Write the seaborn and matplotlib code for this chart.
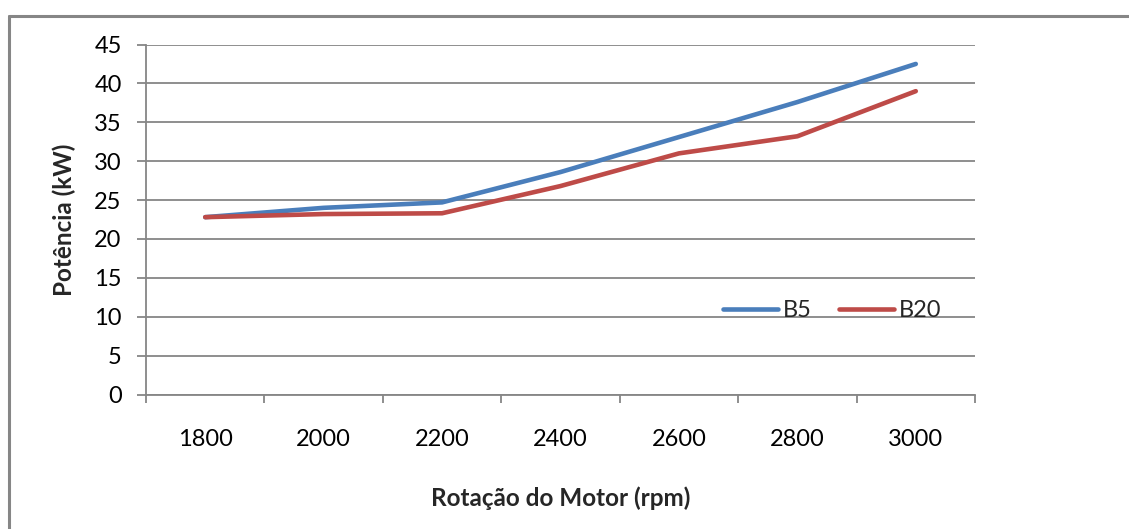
import matplotlib
matplotlib.use("Agg")
import matplotlib.pyplot as plt
import seaborn as sns
import pandas as pd
from matplotlib.lines import Line2D

rpm = ["1800", "2000", "2200", "2400", "2600", "2800", "3000"]
b5 = [22.8, 24.0, 24.7, 28.6, 33.1, 37.6, 42.5]
b20 = [22.8, 23.2, 23.3, 26.8, 31.0, 33.2, 39.0]
series_names = ["B5", "B20"]
colors = ["#4A7EBB", "#BE4B48"]
yticks = [0, 5, 10, 15, 20, 25, 30, 35, 40, 45]

df = pd.DataFrame({
    "rpm": rpm * 2,
    "pot": b5 + b20,
    "serie": [series_names[0]] * len(rpm) + [series_names[1]] * len(rpm),
})

sns.set_style("white")
plt.rcParams["font.family"] = ["Lato", "DejaVu Sans"]

fig = plt.figure(figsize=(11.29, 5.29), dpi=100)
ax = fig.add_axes([146/1129, 1-394.5/529, (975-146)/1129, 350/529])

lw = 3.3
sns.lineplot(data=df, x="rpm", y="pot", hue="serie", palette=colors,
             linewidth=lw, ax=ax, sort=False, legend=False)

ax.set_xlim(-0.5, len(rpm) - 0.5)
ax.set_ylim(0, 45)
ax.set_yticks(yticks)
ax.set_xticks([i - 0.5 for i in range(len(rpm) + 1)], minor=False)
ax.set_xticklabels([])
ax.set_xticks(range(len(rpm)), minor=True)
ax.set_xticklabels(rpm, minor=True)

grid_c = "#868686"
ax.yaxis.grid(True, color=grid_c, linewidth=1.3)
ax.set_axisbelow(True)
for s in ["top", "right"]:
    ax.spines[s].set_visible(False)
for s in ["left", "bottom"]:
    ax.spines[s].set_color(grid_c)
    ax.spines[s].set_linewidth(1.3)

fs = 17
ax.tick_params(axis="y", which="major", length=6.5, width=1.3, color=grid_c,
               labelsize=fs, pad=11, labelcolor="black", left=True)
ax.tick_params(axis="x", which="major", length=6, width=1.3, color=grid_c,
               direction="out", bottom=True)
ax.tick_params(axis="x", which="minor", length=0, labelsize=fs, pad=25,
               labelcolor="black")

ax.set_xlabel("Rotação do Motor (rpm)", fontsize=17.5, fontweight="bold", labelpad=26)
ax.set_ylabel("Potência (kW)", fontsize=17.5, fontweight="bold", labelpad=13)

handles = [Line2D([], [], color=c, linewidth=lw) for c in colors]
ax.legend(handles, series_names, ncol=2, frameon=False, fontsize=fs,
          loc="center left", bbox_to_anchor=((723-146)/829, 0.2386),
          borderpad=0, borderaxespad=0, handlelength=2.33, handletextpad=0.2,
          columnspacing=1.15)

# outer chart frame (left and top edges)
fig.add_artist(Line2D([8.5/1129, 8.5/1129], [0, 1-15.5/529], transform=fig.transFigure,
                      color=grid_c, linewidth=2.2))
fig.add_artist(Line2D([8.5/1129, 1], [1-15.5/529, 1-15.5/529], transform=fig.transFigure,
                      color=grid_c, linewidth=2.2))

fig.savefig("out.png", dpi=100)
